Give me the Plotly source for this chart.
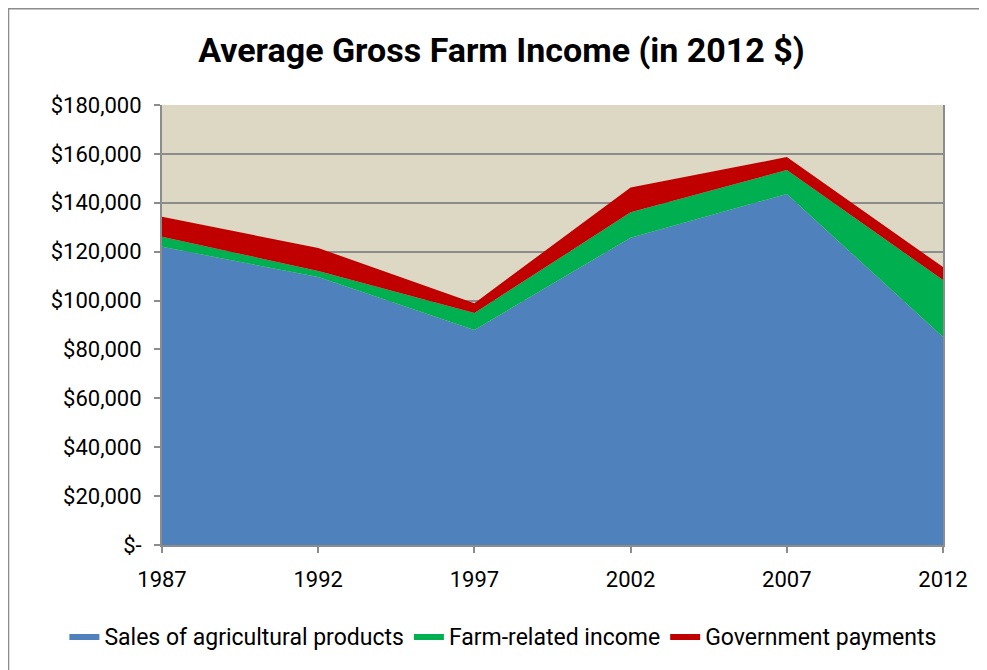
import plotly.graph_objects as go

years = [1987, 1992, 1997, 2002, 2007, 2012]
sales = [122000, 109600, 88000, 125700, 143600, 85100]
farm_related = [4100, 2500, 6900, 10400, 9800, 23300]
government = [8200, 9400, 4000, 10200, 5300, 5300]

y_ticks = [0, 20000, 40000, 60000, 80000, 100000, 120000, 140000, 160000, 180000]
y_labels = ["$-", "$20,000", "$40,000", "$60,000", "$80,000", "$100,000",
            "$120,000", "$140,000", "$160,000", "$180,000"]

FONT = "Roboto, sans-serif"

fig = go.Figure()
series = [
    ("Sales of agricultural products", sales, "#4F81BD"),
    ("Farm-related income", farm_related, "#00B050"),
    ("Government payments", government, "#C00000"),
]
for name, vals, col in series:
    fig.add_trace(go.Scatter(
        x=years, y=vals, name=name, mode="lines",
        stackgroup="one", line=dict(width=0, color=col),
        fillcolor=col,
    ))

fig.update_layout(
    width=987, height=670,
    paper_bgcolor="white", plot_bgcolor="#DDD8C3",
    margin=dict(l=154, r=52, t=97, b=133, autoexpand=False),
    title=dict(text="<b>Average Gross Farm Income (in 2012 $)</b>",
               x=0.5, xanchor="center", y=0.937, yanchor="middle",
               font=dict(family=FONT, size=34, color="black")),
    font=dict(family=FONT, size=22, color="black"),
    showlegend=True,
    legend=dict(orientation="h", x=-0.125, xanchor="left", y=-0.207, yanchor="middle",
                font=dict(family=FONT, size=23), traceorder="normal",
                itemwidth=30, tracegroupgap=0),
    shapes=[dict(type="rect", xref="paper", yref="paper", x0=-0.1965, x1=1.08, y0=-0.33, y1=1.219,
                 line=dict(color="#8C8C8C", width=1.5), layer="below")],
)
fig.update_xaxes(
    range=[1987, 2012], tickvals=years, ticktext=[str(y) for y in years],
    showgrid=False, showline=True, linecolor="#8C8C8C", linewidth=2,
    ticks="outside", ticklen=6, tickcolor="#8C8C8C", tickwidth=2,
    zeroline=False, tickfont=dict(size=22), ticklabelstandoff=8,
)
fig.update_yaxes(
    range=[0, 180000], tickvals=y_ticks, ticktext=y_labels,
    showgrid=True, gridcolor="#8C8C8C", gridwidth=2,
    showline=True, linecolor="#8C8C8C", linewidth=2, mirror=True,
    ticks="outside", ticklen=6, tickcolor="#8C8C8C", tickwidth=2,
    zeroline=False, tickfont=dict(size=22), ticklabelstandoff=8,
)
fig.write_html("out.html")
